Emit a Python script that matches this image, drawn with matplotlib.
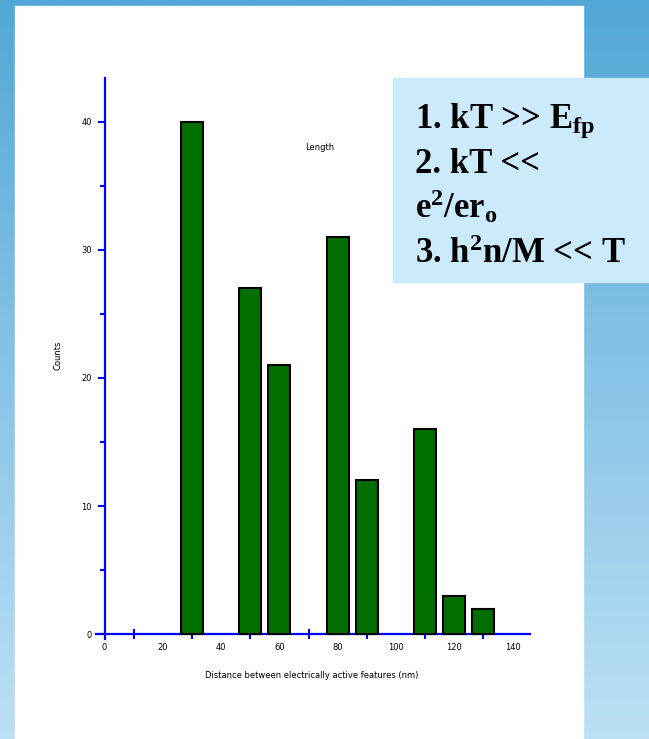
import matplotlib
matplotlib.use("Agg")
import matplotlib.pyplot as plt
import numpy as np
from matplotlib.patches import Rectangle

plt.rcParams['mathtext.fontset'] = 'custom'
plt.rcParams['mathtext.rm'] = 'Liberation Serif:bold'
plt.rcParams['mathtext.bf'] = 'Liberation Serif:bold'
plt.rcParams['mathtext.it'] = 'Liberation Serif:bold'

# data
positions = [30, 50, 60, 80, 90, 110, 120, 130]
counts = [40, 27, 21, 31, 12, 16, 3, 2]
xlabels = ["0", "20", "40", "60", "80", "100", "120", "140"]
ylabels = ["0", "10", "20", "30", "40"]
notes = [r"1. kT >> E$_{\mathrm{fp}}$",
         r"2. kT <<",
         r"e$^{2}$/er$_{\mathrm{o}}$",
         r"3. h$^{2}$n/M << T"]

W, H = 649, 739
fig = plt.figure(figsize=(W / 100, H / 100), dpi=100)

# blue gradient background
bg = fig.add_axes([0, 0, 1, 1])
top = np.array([82, 168, 214]) / 255
bot = np.array([188, 224, 245]) / 255
t = np.linspace(0, 1, 256)[:, None]
grad = (top[None, :] * (1 - t) + bot[None, :] * t)[:, None, :]
bg.imshow(grad, aspect='auto', extent=[0, 1, 0, 1], origin='upper')
bg.set_xlim(0, 1)
bg.set_ylim(0, 1)
bg.axis('off')

# white slide panel
bg.add_patch(Rectangle((15 / W, 0), (583 - 15) / W, (H - 6) / H,
                       transform=bg.transAxes, color='white', zorder=2))

# chart axes
ax = fig.add_axes([95.8 / W, 99.6 / H, 434.2 / W, 561.4 / H])
ax.set_facecolor('none')
ax.bar(positions, counts, width=7.6, color='#006f00', edgecolor='black',
       linewidth=1.5, zorder=3)
ax.set_xlim(-3, 146)
ax.set_ylim(-0.4, 43.4)

for s in ['top', 'right']:
    ax.spines[s].set_visible(False)
ax.spines['left'].set_position(('data', 0))
ax.spines['bottom'].set_position(('data', 0))
ax.spines['left'].set_color('#0000ff')
ax.spines['bottom'].set_color('#0000ff')
ax.spines['left'].set_linewidth(1.6)
ax.spines['bottom'].set_linewidth(1.6)

ax.set_yticks([0, 10, 20, 30, 40])
ax.set_yticklabels(ylabels, fontsize=6)
ax.set_yticks([5, 15, 25, 35], minor=True)
ax.tick_params(axis='y', which='major', length=5, width=1.5, color='#0000ff',
               pad=4)
ax.tick_params(axis='y', which='minor', length=3.5, width=1.5, color='#0000ff')

ax.set_xticks([0, 20, 40, 60, 80, 100, 120, 140])
ax.set_xticklabels(xlabels, fontsize=6)
ax.set_xticks([10, 30, 50, 70, 90, 110, 130], minor=True)
ax.tick_params(axis='x', which='major', length=0, pad=6)
ax.tick_params(axis='x', which='minor', length=7, width=1.5,
               color='#0000ff', direction='inout')

fig.text(58 / W, 1 - 355 / H, "Counts", rotation=90, fontsize=6,
         ha='center', va='center')
fig.text(312 / W, 1 - 676 / H,
         "Distance between electrically active features (nm)",
         fontsize=6, ha='center', va='center')
fig.text(320 / W, 1 - 148 / H, "Length", fontsize=6, ha='center',
         va='center')

# note box
bg.add_patch(Rectangle((393 / W, 1 - 282 / H), (W - 393) / W, (282 - 78) / H,
                       transform=bg.transAxes, color='#cbebfc', zorder=5))
baselines = [128, 173, 218, 263]
for line, yb in zip(notes, baselines):
    fig.text(415 / W, 1 - yb / H, line, fontsize=25, family='Liberation Serif',
             weight='bold', ha='left', va='baseline', zorder=6)

fig.savefig("out.png", dpi=100)
